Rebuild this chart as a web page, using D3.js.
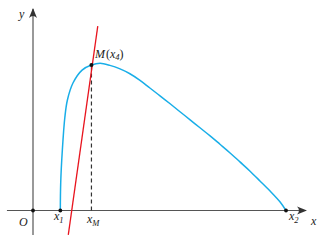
<!DOCTYPE html>
<html><head><meta charset="utf-8">
<script src="https://cdn.jsdelivr.net/npm/d3@7"></script>
<style>html,body{margin:0;padding:0;background:#fff;}svg{display:block;}</style>
</head><body>
<svg id="c" width="327" height="241"></svg>
<script>
// data (arbitrary units: O = 0, x2 = 100, peak height = 100)
const curveX = [10.8, 10.95, 11.6, 12.6, 13.6, 15.8, 19.4, 23.1, 26.5, 30.4, 34.4, 38.3, 42.3, 46.2, 50.2, 54.2, 58.1, 62.1, 66.0, 70.0, 73.9, 77.9, 81.8, 85.8, 89.7, 93.7, 97.6, 100];
const curveY = [0, 18.7, 41.1, 63.5, 75.1, 86.6, 95.4, 98.8, 100, 98.6, 96.2, 92.9, 88.4, 83.2, 77.9, 72.5, 67.1, 61.6, 56.2, 50.7, 45.0, 39.1, 33.0, 26.7, 20.1, 13.2, 5.9, 0];
const tangentX = [13.95, 25.6];
const tangentY = [-16.6, 125.3];
const pointM = [23.1, 98.8];
const axisX = [-10.3, 107.9];
const axisY = [-16.6, 136.9];
const xTicks = [0, 10.8, 100];

const svg = d3.select("#c");
const x = d3.scaleLinear().domain([0, 100]).range([33, 286]);
const y = d3.scaleLinear().domain([0, 100]).range([210.5, 63.3]);

const defs = svg.append("defs");
defs.append("marker").attr("id", "arr").attr("viewBox", "0 0 10 10")
  .attr("refX", 9).attr("refY", 5).attr("markerWidth", 10).attr("markerHeight", 10)
  .attr("markerUnits", "userSpaceOnUse").attr("orient", "auto")
  .append("path").attr("d", "M0,1 Q4,5 0,9 L10,5 Z").attr("fill", "#333");

const axisCol = "#555";
svg.append("line").attr("x1", x(axisX[0])).attr("x2", x(axisX[1]))
  .attr("y1", y(0)).attr("y2", y(0)).attr("stroke", axisCol).attr("stroke-width", 1.2)
  .attr("marker-end", "url(#arr)");
svg.append("line").attr("x1", x(0)).attr("x2", x(0))
  .attr("y1", y(axisY[0])).attr("y2", y(axisY[1])).attr("stroke", axisCol).attr("stroke-width", 1.2)
  .attr("marker-end", "url(#arr)");

svg.append("line").attr("x1", x(pointM[0])).attr("x2", x(pointM[0]))
  .attr("y1", y(0)).attr("y2", y(pointM[1])).attr("stroke", "#333")
  .attr("stroke-width", 1.2).attr("stroke-dasharray", "4,3");

const pts = curveX.map((v, i) => [v, curveY[i]]);
svg.append("path").datum(pts)
  .attr("d", d3.line().x(d => x(d[0])).y(d => y(d[1])).curve(d3.curveCatmullRom.alpha(0.5)))
  .attr("fill", "none").attr("stroke", "#19aee8").attr("stroke-width", 1.5);

svg.append("line").attr("x1", x(tangentX[0])).attr("x2", x(tangentX[1]))
  .attr("y1", y(tangentY[0])).attr("y2", y(tangentY[1]))
  .attr("stroke", "#e8141e").attr("stroke-width", 1.3);

xTicks.forEach(v => svg.append("circle").attr("cx", x(v)).attr("cy", y(0)).attr("r", 1.9).attr("fill", "#111"));
svg.append("circle").attr("cx", x(pointM[0])).attr("cy", y(pointM[1])).attr("r", 2).attr("fill", "#111");

const font = "'Liberation Serif', 'DejaVu Serif', serif";
function label(px, py, main, sub) {
  const t = svg.append("text").attr("x", px).attr("y", py)
    .attr("font-family", font).attr("font-style", "italic").attr("font-size", 12).attr("fill", "#222");
  t.append("tspan").text(main);
  if (sub) t.append("tspan").attr("font-size", 8.5).attr("dy", 3).text(sub);
  return t;
}
label(19, 18, "y");
label(19, 226, "O");
label(54, 220, "x", "1");
label(87, 223, "x", "M");
label(289, 220, "x", "2");
label(311, 225, "x");

const tm = svg.append("text").attr("x", 95).attr("y", 58)
  .attr("font-family", font).attr("font-size", 12).attr("fill", "#222");
tm.append("tspan").attr("font-style", "italic").text("M");
tm.append("tspan").attr("dx", 1).text("(");
tm.append("tspan").attr("font-style", "italic").text("x");
tm.append("tspan").attr("font-style", "italic").attr("font-size", 8.5).attr("dy", 2).text("4");
tm.append("tspan").attr("dy", -2).text(")");
</script>
</body></html>
